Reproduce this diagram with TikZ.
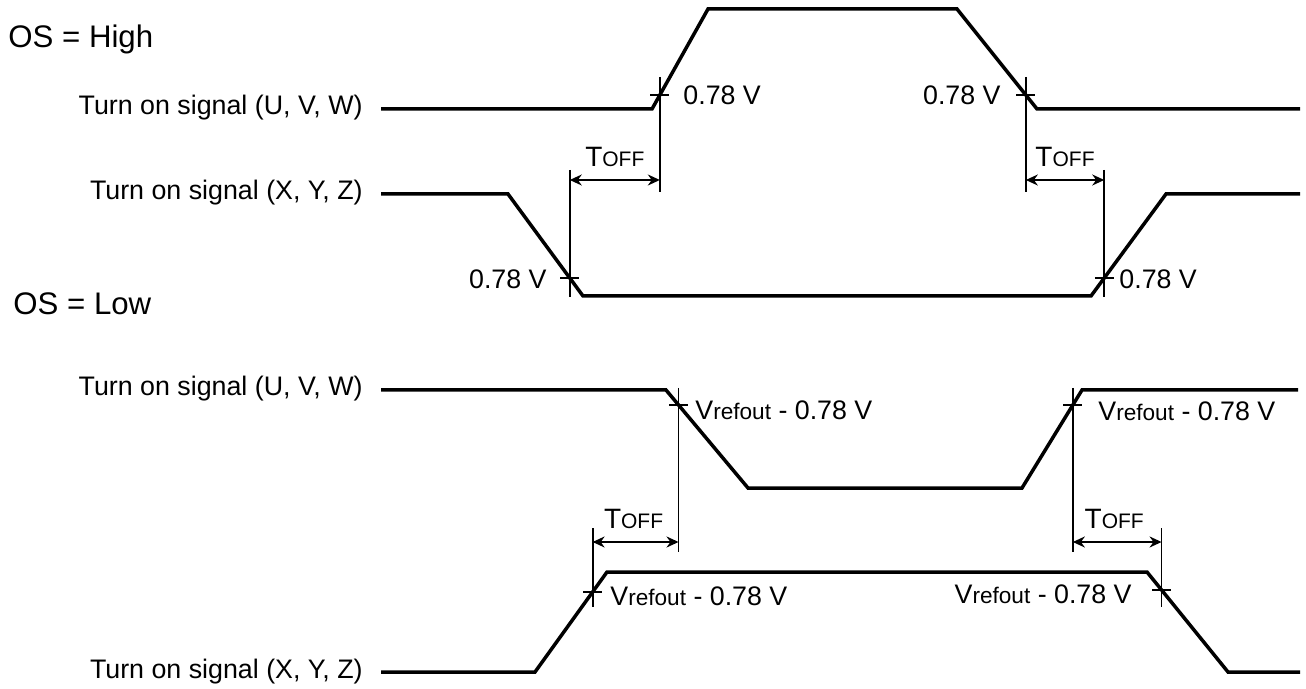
\documentclass[tikz,border=0pt]{standalone}
\usepackage{fontspec}
\setmainfont{Liberation Sans}
\usetikzlibrary{calc,arrows.meta}
\newcommand\lbl{\fontsize{13.4}{15}\selectfont}
\newcommand\toff{{\fontsize{14}{16}\selectfont T}{\fontsize{10.5}{12}\selectfont OFF}}
\newcommand\vrefl{V{\fontsize{11.3}{13}\selectfont refout} - 0.78 V}
\begin{document}
\begin{tikzpicture}[x=0.5pt,y=-0.5pt,
  wave/.style={line width=1.75pt,line join=miter},
  guide/.style={line width=0.9pt},
  dimarrow/.style={line width=0.9pt,{Stealth[length=6pt,width=5.5pt]}-{Stealth[length=6pt,width=5.5pt]}},
  txt/.style={inner sep=0pt,font=\lbl},
  ostxt/.style={inner sep=0pt,font=\fontsize{15.6}{18}\selectfont}]
\useasboundingbox (0,0) rectangle (1306,689);
% ---------- OS = High ----------
\node[ostxt,anchor=base west] (oshigh) at (8,48) {OS = High};
\node[txt,anchor=base east] (l1) at (363,115) {Turn on signal (U, V, W)};
\node[txt,anchor=base east] (l2) at (363,200) {Turn on signal (X, Y, Z)};
% signal 1
\coordinate (s1a) at (381,109); \coordinate (s1b) at (652,109);
\coordinate (s1c) at (708,9);   \coordinate (s1d) at (957,9);
\coordinate (s1e) at (1037,109);\coordinate (s1f) at (1300,109);
\draw[wave] (s1a) -- (s1b) -- (s1c) -- (s1d) -- (s1e) -- (s1f);
% signal 2
\coordinate (s2a) at (381,194); \coordinate (s2b) at (508,194);
\coordinate (s2c) at (583,296); \coordinate (s2d) at (1091,296);
\coordinate (s2e) at (1166,194);\coordinate (s2f) at (1300,194);
\draw[wave] (s2a) -- (s2b) -- (s2c) -- (s2d) -- (s2e) -- (s2f);
% crossing points
\coordinate (c1) at ($(s1b)!0.14!(s1c)$);
\coordinate (c2) at ($(s1d)!0.86!(s1e)$);
\coordinate (c3) at ($(s2b)!0.8235!(s2c)$);
\coordinate (c4) at ($(s2d)!0.1765!(s2e)$);
\coordinate (ya) at (0,77);  \coordinate (yb) at (0,192);
\coordinate (yc) at (0,170); \coordinate (yd) at (0,297);
\coordinate (ar1) at (0,180);
\draw[guide] (c1 |- ya) -- (c1 |- yb);
\draw[guide] (c2 |- ya) -- (c2 |- yb);
\draw[guide] (c3 |- yc) -- (c3 |- yd);
\draw[guide] (c4 |- yc) -- (c4 |- yd);
\foreach \c in {c1,c2,c3,c4}{\draw[guide] ($(\c)+(-9.5,0)$) -- ($(\c)+(9.5,0)$);}
\draw[dimarrow] (c3 |- ar1) -- (c1 |- ar1) coordinate[midway] (m1);
\draw[dimarrow] (c2 |- ar1) -- (c4 |- ar1) coordinate[midway] (m2);
\node[txt,anchor=base] (t1) at ($(m1)+(0,-13)$) {\toff};
\node[txt,anchor=base] (t2) at ($(m2)+(0,-13)$) {\toff};
\node[txt,anchor=base west] (v1) at (683,105) {0.78 V};
\node[txt,anchor=base east] (v2) at (1001,105) {0.78 V};
\node[txt,anchor=base east] (v3) at (547,289) {0.78 V};
\node[txt,anchor=base west] (v4) at (1119,289) {0.78 V};
% ---------- OS = Low ----------
\node[ostxt,anchor=base west] (oslow) at (13,315) {OS = Low};
\node[txt,anchor=base east] (l3) at (363,396) {Turn on signal (U, V, W)};
\node[txt,anchor=base east] (l4) at (363,678) {Turn on signal (X, Y, Z)};
% signal 3
\coordinate (s3a) at (381,390); \coordinate (s3b) at (666,390);
\coordinate (s3c) at (748,488); \coordinate (s3d) at (1022,488);
\coordinate (s3e) at (1082,390);\coordinate (s3f) at (1298,390);
\draw[wave] (s3a) -- (s3b) -- (s3c) -- (s3d) -- (s3e) -- (s3f);
% signal 4
\coordinate (s4a) at (381,672); \coordinate (s4b) at (535,672);
\coordinate (s4c) at (607,572); \coordinate (s4d) at (1147,572);
\coordinate (s4e) at (1228,672);\coordinate (s4f) at (1300,672);
\draw[wave] (s4a) -- (s4b) -- (s4c) -- (s4d) -- (s4e) -- (s4f);
\coordinate (c5) at ($(s3b)!0.153!(s3c)$);
\coordinate (c6) at ($(s3d)!0.847!(s3e)$);
\coordinate (c7) at ($(s4b)!0.8!(s4c)$);
\coordinate (c8) at ($(s4d)!0.18!(s4e)$);
\coordinate (ye) at (0,388); \coordinate (yf) at (0,552);
\coordinate (yg) at (0,528); \coordinate (yh) at (0,607);
\coordinate (ar2) at (0,542);
\draw[guide] (c5 |- ye) -- (c5 |- yf);
\draw[guide] (c6 |- ye) -- (c6 |- yf);
\draw[guide] (c7 |- yg) -- (c7 |- yh);
\draw[guide] (c8 |- yg) -- (c8 |- yh);
\foreach \c in {c5,c6,c7,c8}{\draw[guide] ($(\c)+(-9.5,0)$) -- ($(\c)+(9.5,0)$);}
\draw[dimarrow] (c7 |- ar2) -- (c5 |- ar2) coordinate[midway] (m3);
\draw[dimarrow] (c6 |- ar2) -- (c8 |- ar2) coordinate[midway] (m4);
\node[txt,anchor=base] (t3) at ($(m3)+(-2,-14)$) {\toff};
\node[txt,anchor=base] (t4) at ($(m4)+(-3,-14)$) {\toff};
\node[txt,anchor=base west] (r1) at (695,420) {\vrefl};
\node[txt,anchor=base west] (r2) at (1098,421) {\vrefl};
\node[txt,anchor=base west] (r3) at (610,605) {\vrefl};
\node[txt,anchor=base east] (r4) at (1132,603) {\vrefl};
\end{tikzpicture}
\end{document}
